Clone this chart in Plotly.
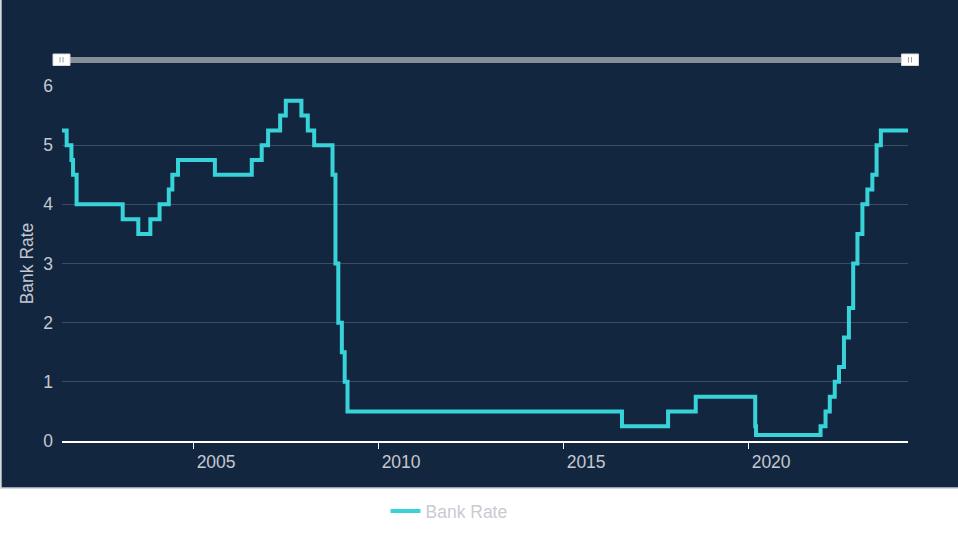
import plotly.graph_objects as go

# UK Bank Rate decision dates and levels (%)
dates = [
    "2001-05-10", "2001-08-02", "2001-09-18", "2001-10-04", "2001-11-08",
    "2003-02-06", "2003-07-10", "2003-11-06", "2004-02-05", "2004-05-06",
    "2004-06-10", "2004-08-05", "2005-08-04", "2006-08-03", "2006-11-09",
    "2007-01-11", "2007-05-10", "2007-07-05", "2007-12-06", "2008-02-07",
    "2008-04-10", "2008-10-08", "2008-11-06", "2008-12-04", "2009-01-08",
    "2009-02-05", "2009-03-05", "2016-08-04", "2017-11-02", "2018-08-02",
    "2020-03-11", "2020-03-19", "2021-12-16", "2022-02-03", "2022-03-17",
    "2022-05-05", "2022-06-16", "2022-08-04", "2022-09-22", "2022-11-03",
    "2022-12-15", "2023-02-02", "2023-03-23", "2023-05-11", "2023-06-22",
    "2023-08-03", "2024-04-27",
]
rates = [
    5.25, 5.00, 4.75, 4.50, 4.00,
    3.75, 3.50, 3.75, 4.00, 4.25,
    4.50, 4.75, 4.50, 4.75, 5.00,
    5.25, 5.50, 5.75, 5.50, 5.25,
    5.00, 4.50, 3.00, 2.00, 1.50,
    1.00, 0.50, 0.25, 0.50, 0.75,
    0.25, 0.10, 0.25, 0.50, 0.75,
    1.00, 1.25, 1.75, 2.25, 3.00,
    3.50, 4.00, 4.25, 4.50, 5.00,
    5.25, 5.25,
]
tick_years = ["2005-01-01", "2010-01-01", "2015-01-01", "2020-01-01"]
tick_labels = ["2005", "2010", "2015", "2020"]
y_ticks = [0, 1, 2, 3, 4, 5, 6]

BG = "#13263f"
LINE = "#38d3d8"
TXT = "#c4c8d0"
GRID = "#3c4c63"
FS = 17.5

W, H = 958, 551
ML, MR, MT, MB = 62, 50, 86, 110
PW, PH = W - ML - MR, H - MT - MB


def px(x):
    return (x - ML) / PW


def py(y):
    return (H - MB - y) / PH


fig = go.Figure()
fig.add_trace(go.Scatter(
    x=dates, y=rates, mode="lines", name="Bank Rate",
    line=dict(color=LINE, width=4, shape="hv"),
))

shapes = [
    # dark chart background
    dict(type="rect", xref="paper", yref="paper", layer="below",
         x0=px(1), x1=px(962), y0=py(488), y1=py(-4),
         fillcolor=BG, line=dict(color="#c8ccd2", width=1.5)),
    # navigator bar
    dict(type="rect", xref="paper", yref="paper", layer="above",
         x0=px(60), x1=px(912), y0=py(63), y1=py(57),
         fillcolor="#888e96", line=dict(width=0)),
]
for hx in (61.5, 910):
    shapes.append(dict(type="rect", xref="paper", yref="paper", layer="above",
                       x0=px(hx - 8.5), x1=px(hx + 8.5), y0=py(65.5), y1=py(54),
                       fillcolor="#ffffff", line=dict(color="#d8d8d8", width=1)))
    for dx in (-1.5, 1.5):
        shapes.append(dict(type="line", xref="paper", yref="paper", layer="above",
                           x0=px(hx + dx), x1=px(hx + dx), y0=py(62.5), y1=py(57),
                           line=dict(color="#9a9a9a", width=1)))

fig.update_layout(
    width=W, height=H,
    margin=dict(l=ML, r=MR, t=MT, b=MB),
    paper_bgcolor="#ffffff",
    plot_bgcolor="rgba(0,0,0,0)",
    font=dict(family="Liberation Sans, Arial, sans-serif", size=FS, color=TXT),
    shapes=shapes,
    showlegend=True,
    legend=dict(orientation="h", x=px(449), xanchor="center",
                y=py(511), yanchor="middle",
                font=dict(size=FS, color="#c8cbd2"),
                bgcolor="rgba(0,0,0,0)"),
    xaxis=dict(
        type="date",
        range=["2001-06-17", "2024-04-27"],
        tickmode="array", tickvals=tick_years, ticktext=tick_labels,
        ticks="outside", ticklen=6, tickwidth=1, tickcolor="#ffffff",
        showline=True, linecolor="#ffffff", linewidth=2,
        showgrid=False, zeroline=False,
        ticklabelshift=23, ticklabelstandoff=-2,
        tickfont=dict(size=FS, color=TXT),
    ),
    yaxis=dict(
        range=[0, 6],
        tickmode="array", tickvals=y_ticks,
        showgrid=True, gridcolor=GRID, gridwidth=1,
        zeroline=False, showline=False,
        ticks="", ticklabelstandoff=8,
        tickfont=dict(size=FS, color=TXT),
        title=dict(text="Bank Rate", font=dict(size=FS, color=TXT), standoff=5),
    ),
)

fig.write_html(
    "out.html",
    config={"displayModeBar": False},
    post_script="document.body.style.margin='0';document.body.style.overflow='hidden';",
)
